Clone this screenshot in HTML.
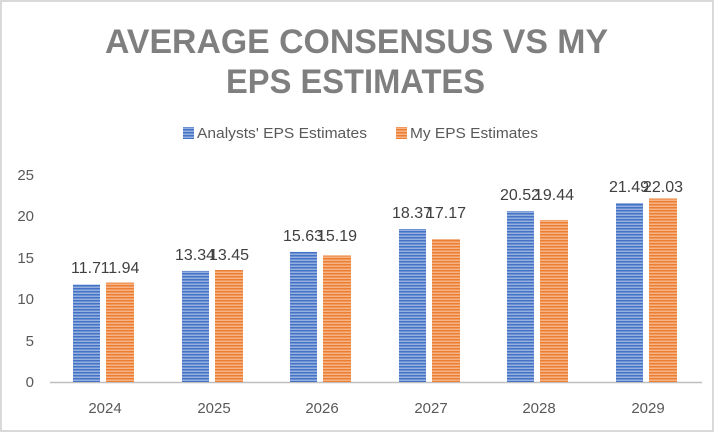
<!DOCTYPE html>
<html><head><style>body{margin:0;background:#fff}</style></head><body>
<svg width="714" height="432" xmlns="http://www.w3.org/2000/svg" font-family="Liberation Sans, sans-serif">
<defs>
<pattern id="pb" width="4" height="3" patternUnits="userSpaceOnUse"><rect width="4" height="3" fill="#4472c4"/><rect y="1.6" width="4" height="1.2" fill="#a9bfe6"/></pattern>
<pattern id="po" width="4" height="3" patternUnits="userSpaceOnUse"><rect width="4" height="3" fill="#ed7d31"/><rect y="1.6" width="4" height="1.2" fill="#f7c19c"/></pattern>
</defs>
<rect x="1" y="1" width="712" height="430" fill="#fff" stroke="#d9d9d9" stroke-width="2"/>
<g fill="#7f7f7f" font-weight="bold" font-size="34">
<text x="105" y="53" textLength="503" lengthAdjust="spacingAndGlyphs">AVERAGE CONSENSUS VS MY</text>
<text x="226" y="93" textLength="259" lengthAdjust="spacingAndGlyphs">EPS ESTIMATES</text>
</g>
<rect x="183" y="127" width="11" height="12" fill="url(#pb)"/>
<text x="197" y="138" font-size="15" fill="#595959" textLength="170" lengthAdjust="spacingAndGlyphs">Analysts' EPS Estimates</text>
<rect x="396" y="127" width="11" height="12" fill="url(#po)"/>
<text x="410" y="138" font-size="15" fill="#595959" textLength="128" lengthAdjust="spacingAndGlyphs">My EPS Estimates</text>
<g font-size="15" fill="#595959" text-anchor="end">
<text x="34" y="387">0</text><text x="34" y="346">5</text><text x="34" y="304">10</text>
<text x="34" y="263">15</text><text x="34" y="221">20</text><text x="34" y="180">25</text>
</g>
<line x1="50" y1="382.5" x2="702" y2="382.5" stroke="#bfbfbf" stroke-width="1.5"/>
<g font-size="15" fill="#595959" text-anchor="middle">
<text x="105" y="413">2024</text><text x="214" y="413">2025</text><text x="322" y="413">2026</text>
<text x="431" y="413">2027</text><text x="539" y="413">2028</text><text x="648" y="413">2029</text>
</g>
<g font-size="16" fill="#404040" text-anchor="middle">
<rect x="73" y="284.6" width="27" height="97.4" fill="url(#pb)"/><rect x="106" y="282.6" width="28" height="99.4" fill="url(#po)"/>
<text x="86" y="273">11.7</text><text x="120" y="273">11.94</text>
<rect x="182" y="270.9" width="27" height="111.1" fill="url(#pb)"/><rect x="215" y="270" width="28" height="112" fill="url(#po)"/>
<text x="195" y="260">13.34</text><text x="229" y="260">13.45</text>
<rect x="290" y="251.9" width="27" height="130.1" fill="url(#pb)"/><rect x="323" y="255.5" width="28" height="126.5" fill="url(#po)"/>
<text x="303" y="241">15.63</text><text x="337" y="241">15.19</text>
<rect x="399" y="229" width="27" height="153" fill="url(#pb)"/><rect x="432" y="239" width="28" height="143" fill="url(#po)"/>
<text x="412" y="218">18.37</text><text x="446" y="218">17.17</text>
<rect x="507" y="211.1" width="27" height="170.9" fill="url(#pb)"/><rect x="540" y="220.1" width="28" height="161.9" fill="url(#po)"/>
<text x="520" y="200">20.52</text><text x="554" y="200">19.44</text>
<rect x="616" y="203" width="27" height="179" fill="url(#pb)"/><rect x="649" y="198.5" width="28" height="183.5" fill="url(#po)"/>
<text x="629" y="192">21.49</text><text x="663" y="192">22.03</text>
</g>
</svg>
</body></html>
